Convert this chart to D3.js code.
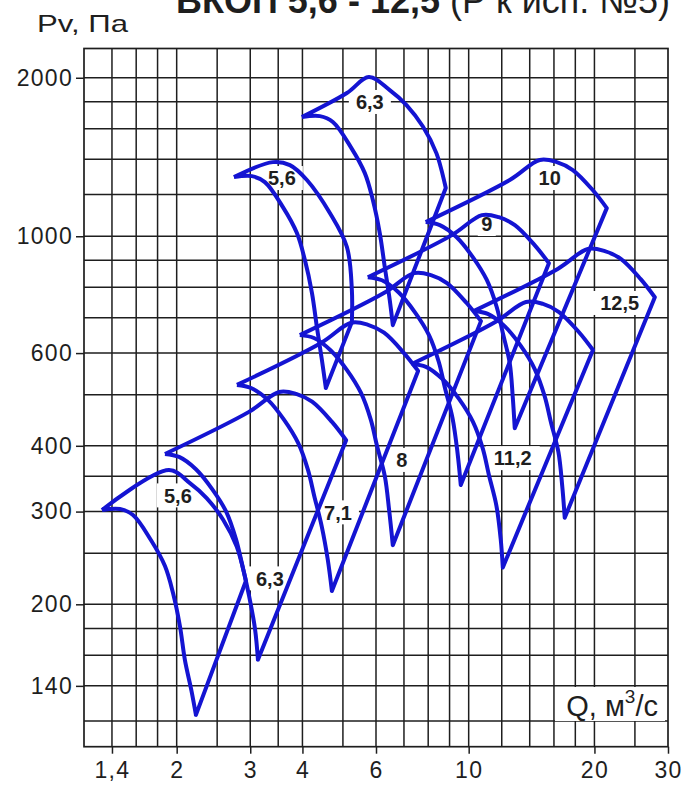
<!DOCTYPE html>
<html>
<head>
<meta charset="utf-8">
<script src="https://cdn.jsdelivr.net/npm/d3@7"></script>
<style>
  body { margin: 0; background: #fff; }
  text { font-family: "Liberation Sans", Arial, sans-serif; }
</style>
</head>
<body>
<div id="chart"></div>
<script>
// ticks and grid
var xTicks = [1.4, 2, 3, 4, 6, 10, 20, 30];
var xGrid = [1.4, 1.6, 1.8, 2, 2.5, 3, 3.5, 4, 5, 6, 7, 8, 9, 10, 12, 14, 16, 18, 20, 25];
var yTicks = [140, 200, 300, 400, 600, 1000, 2000];
var yGrid = [120, 140, 160, 180, 200, 250, 300, 350, 400, 500, 600, 700, 800, 900, 1000, 1200, 1400, 1600, 1800, 2000];

// fan areas [Q, Pv]: top = left tip -> peak -> right corner, bottom = left tip -> cusp
var fan56hiTop = [[2.742,1295],[3.399,1383],[3.733,1365],[4.100,1279],[4.653,1107],[5.111,954],[5.253,790],[5.253,687]];
var fan56hiBottom = [[2.742,1295],[3.027,1301],[3.252,1267],[3.592,1136],[3.880,1014],[4.055,901],[4.215,781],[4.332,672],[4.453,582],[4.551,515]];

var fan63hiTop = [[3.987,1684],[5.111,1871],[5.768,2006],[6.472,1895],[7.098,1775],[7.777,1614],[8.374,1437],[8.765,1260],[8.814,1235]];
var fan63hiBottom = [[3.987,1684],[4.403,1691],[4.730,1648],[5.222,1477],[5.642,1318],[5.897,1172],[6.126,1014],[6.297,874],[6.472,757],[6.583,678]];

var fan56loTop = [[1.325,302],[1.917,359.7],[2.151,339.8],[2.359,318.3],[2.584,289.5],[2.783,257.7],[2.913,226.0],[2.929,221.4]];
var fan56loBottom = [[1.325,302],[1.463,303.3],[1.572,295.5],[1.735,264.9],[1.875,236.4],[1.960,210.1],[2.036,181.9],[2.093,156.7],[2.170,137],[2.224,123.3]];

var fan63loTop = [[1.875,386],[2.979,464],[3.518,506],[3.863,502],[4.219,485],[4.708,444],[5.089,410]];
var fan63loBottom = [[1.875,386],[2.027,381],[2.224,361],[2.432,331],[2.627,300],[2.773,266],[2.869,238],[2.979,208],[3.080,179.5],[3.130,157]];

var fan71Top = [[2.788,522],[4.430,627],[5.230,685],[5.743,679],[6.273,656],[7.001,600],[7.567,555]];
var fan71Bottom = [[2.788,522],[3.014,515],[3.307,489],[3.616,448],[3.906,405],[4.124,360],[4.266,322],[4.450,281],[4.600,243],[4.705,212]];

var fan8Top = [[3.943,649],[6.265,780],[7.397,851],[8.123,844],[8.872,815],[9.901,746],[10.70,690]];
var fan8Bottom = [[3.943,649],[4.262,641],[4.676,607],[5.114,557],[5.524,504],[5.832,448],[6.033,400],[6.300,350],[6.450,302],[6.583,259]];

var fan9Top = [[5.735,836],[9.113,1005],[10.76,1097],[11.81,1087],[12.90,1050],[14.40,961],[15.56,889]];
var fan9Bottom = [[5.735,836],[6.200,825],[6.802,782],[7.438,717],[8.035,649],[8.482,577],[8.775,515],[9.150,451],[9.400,389],[9.574,337]];

var fan10Top = [[7.89,1064],[12.54,1279],[14.80,1396],[16.25,1383],[17.75,1336],[19.81,1224],[21.41,1131]];
var fan10Bottom = [[7.89,1064],[8.53,1050],[9.36,996],[10.23,913],[11.05,826],[11.67,734],[12.07,655],[12.54,574],[12.75,495],[12.89,432]];

var fan112Top = [[7.309,572],[11.61,688],[13.71,750],[15.06,744],[16.45,718],[18.35,658],[19.84,608]];
var fan112Bottom = [[7.309,572],[7.901,565],[8.668,535],[9.480,491],[10.24,444],[10.81,395],[11.18,352],[11.65,308],[11.93,266],[12.07,235]];

var fan125Top = [[10.28,721],[16.33,867],[19.29,946],[21.18,937],[23.13,906],[25.81,829],[27.90,766]];
var fan125Bottom = [[10.28,721],[11.11,712],[12.19,675],[13.33,619],[14.40,559],[15.20,497],[15.73,444],[16.40,389],[16.75,335],[16.98,292]];

var labelText = ['6,3', '5,6', '10', '9', '12,5', '5,6', '6,3', '7,1', '8', '11,2'];
var labelQ = [5.80, 3.571, 15.63, 11.05, 22.99, 2.013, 3.343, 4.864, 6.918, 12.75];
var labelP = [1799, 1290, 1290, 1055, 747, 322, 224, 299, 376, 379];

var fans = [
  [fan56hiTop, fan56hiBottom], [fan63hiTop, fan63hiBottom],
  [fan56loTop, fan56loBottom], [fan63loTop, fan63loBottom],
  [fan71Top, fan71Bottom], [fan8Top, fan8Bottom], [fan9Top, fan9Bottom],
  [fan10Top, fan10Bottom], [fan112Top, fan112Bottom], [fan125Top, fan125Bottom]
];

var
  w = 695,
  h = 785,
  pLeft = 84, pRight = 668, pTop = 48.5, pBottom = 746.7,
  x = d3.scaleLog().domain([1.2, 30]).range([pLeft, pRight]),
  y = d3.scaleLog().domain([107.3, 2273]).range([pBottom, pTop]),
  blue = '#1414d2',
  ink = '#1e1e1e';

var fmt = function(d) { return String(d).replace('.', ','); };

var svg = d3.select('#chart').append('svg')
  .attr('width', w)
  .attr('height', h)
  .attr('style', 'background-color: white; display: block;');

// title, cut by the top edge like in the scan
var title = svg.append('text')
  .attr('x', 176)
  .attr('y', 13)
  .attr('font-size', 36)
  .attr('fill', ink);
title.append('tspan').attr('font-weight', 'bold').text('ВКОП 5,6 - 12,5 ');
title.append('tspan').text('(Р к исп. №5)');

svg.append('text')
  .attr('x', 37)
  .attr('y', 32)
  .attr('font-size', 24)
  .attr('textLength', 91)
  .attr('lengthAdjust', 'spacingAndGlyphs')
  .attr('fill', ink)
  .text('Pv, Па');

// grid
var grid = svg.append('g').attr('stroke', ink).attr('stroke-width', 1.5);
grid.selectAll('.gx').data(xGrid).enter().append('line')
  .attr('x1', function(d) { return x(d); }).attr('x2', function(d) { return x(d); })
  .attr('y1', pTop).attr('y2', pBottom);
grid.selectAll('.gy').data(yGrid).enter().append('line')
  .attr('y1', function(d) { return y(d); }).attr('y2', function(d) { return y(d); })
  .attr('x1', pLeft).attr('x2', pRight);
svg.append('rect')
  .attr('x', pLeft).attr('y', pTop)
  .attr('width', pRight - pLeft).attr('height', pBottom - pTop)
  .attr('fill', 'none').attr('stroke', ink).attr('stroke-width', 1.7);

// axes
var xAxis = d3.axisBottom(x).tickValues(xTicks).tickFormat(fmt).tickSize(7).tickPadding(8);
var yAxis = d3.axisLeft(y).tickValues(yTicks).tickFormat(fmt).tickSize(8).tickPadding(3);

var gx = svg.append('g').attr('transform', 'translate(0,' + pBottom + ')').call(xAxis);
var gy = svg.append('g').attr('transform', 'translate(' + pLeft + ',0)').call(yAxis);
[gx, gy].forEach(function(g) {
  g.select('.domain').remove();
  g.selectAll('line').attr('stroke', ink).attr('stroke-width', 1.5);
  g.selectAll('text').attr('font-size', 23).attr('fill', ink)
    .attr('letter-spacing', 1.3)
    .attr('font-family', '"Liberation Sans", Arial, sans-serif');
});

// white patches under the size labels hide the grid only
var labPos = function(d, i) { return 'translate(' + x(labelQ[i]) + ',' + y(labelP[i]) + ')'; };
svg.append('g').selectAll('rect')
  .data(labelText)
  .enter().append('rect')
  .attr('transform', labPos)
  .attr('x', function(d) { return -d.length * 6 - 3; })
  .attr('y', -12)
  .attr('width', function(d) { return d.length * 12 + 6; })
  .attr('height', 24)
  .attr('fill', 'white');

// fan areas
var curve = d3.line()
  .x(function(d) { return x(d[0]); })
  .y(function(d) { return y(d[1]); })
  .curve(d3.curveCatmullRom.alpha(0.5));

svg.append('g').selectAll('path')
  .data(fans)
  .enter().append('path')
  .attr('d', function(f) {
    var upper = f[0], lower = f[1].slice().reverse();
    var d = lower[0];
    return curve(upper) + 'L' + x(d[0]) + ',' + y(d[1]) + curve(lower).replace(/^M/, 'L');
  })
  .attr('fill', 'none')
  .attr('stroke', blue)
  .attr('stroke-width', 4)
  .attr('stroke-linejoin', 'round');

svg.append('g').selectAll('text')
  .data(labelText)
  .enter().append('text')
  .attr('transform', labPos)
  .attr('text-anchor', 'middle')
  .attr('dy', '0.36em')
  .attr('font-size', 20)
  .attr('font-weight', 'bold')
  .attr('fill', ink)
  .text(function(d) { return d; });

// flow axis name
svg.append('rect')
  .attr('x', 555).attr('y', 687).attr('width', 110).attr('height', 34)
  .attr('fill', 'white');
var qt = svg.append('text')
  .attr('x', 658).attr('y', 716)
  .attr('text-anchor', 'end')
  .attr('font-size', 29)
  .attr('fill', ink);
qt.append('tspan').text('Q, м');
qt.append('tspan').attr('font-size', 19).attr('dy', -13).text('3');
qt.append('tspan').attr('dy', 13).text('/с');
</script>
</body>
</html>
